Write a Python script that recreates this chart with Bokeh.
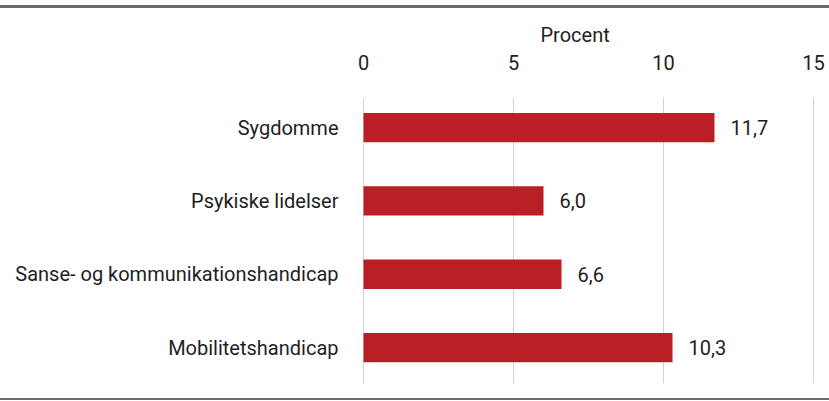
from bokeh.plotting import figure
from bokeh.models import ColumnDataSource, Range1d, FixedTicker, Div, Spacer
from bokeh.layouts import column
from bokeh.core.properties import value
from bokeh.embed import file_html
from bokeh.resources import INLINE

categories = ["Sygdomme", "Psykiske lidelser", "Sanse- og kommunikationshandicap", "Mobilitetshandicap"]
values = [11.7, 6.0, 6.6, 10.3]
x_ticks = [0, 5, 10, 15]
x_title = "Procent"

FONT = "Roboto"
BAR = "#BA1F25"
TXT = "#1e1e1e"
RULE = "#6b6b6b"
W = 829

n = len(categories)
ypos = [n - 1 - i for i in range(n)]
labels = [f"{v:.1f}".replace(".", ",") for v in values]
src = ColumnDataSource(dict(y=ypos, v=values, lab=labels, cat=categories))

y0, y1 = -0.49, 3.41
p = figure(width=W, height=390, output_backend="svg", toolbar_location=None,
           x_range=Range1d(-2 / 30, 15 + 2 / 30), y_range=Range1d(y0, y1),
           x_axis_location="above", min_border_left=361, min_border_right=14,
           min_border_top=89, min_border_bottom=15, margin=0)
p.outline_line_color = None
p.background_fill_color = "white"

p.title.text = x_title
p.title.align = "left"
p.title.offset = 179
p.title.standoff = 9
p.title.text_font = FONT
p.title.text_font_size = "20px"
p.title.text_font_style = "normal"
p.title.text_color = TXT

p.xgrid.grid_line_color = None
p.ygrid.grid_line_color = None
p.segment(x0=x_ticks, y0=[y0] * len(x_ticks), x1=x_ticks, y1=[y1] * len(x_ticks),
          line_color="#d2d2d2", line_width=1)

p.hbar(y="y", left=0, right="v", height=0.4, source=src, fill_color=BAR, line_color=None)
p.text(x="v", y="y", text="lab", source=src, x_offset=16, text_baseline="middle",
       text_align="left", text_font=value(FONT), text_font_size="20px", text_color=TXT)

xa = p.xaxis[0]
xa.ticker = FixedTicker(ticks=x_ticks)
xa.axis_line_color = None
xa.major_tick_line_color = None
xa.minor_tick_line_color = None
xa.major_tick_out = 0
xa.major_label_text_font = FONT
xa.major_label_text_font_size = "20px"
xa.major_label_text_color = TXT
xa.major_label_standoff = 28

ya = p.yaxis[0]
ya.ticker = FixedTicker(ticks=ypos)
ya.major_label_overrides = {y: c for y, c in zip(ypos, categories)}
ya.axis_line_color = None
ya.major_tick_line_color = None
ya.minor_tick_line_color = None
ya.major_tick_out = 0
ya.major_label_standoff = 23
ya.major_label_text_font = FONT
ya.major_label_text_font_size = "20px"
ya.major_label_text_color = TXT

top_gap = Spacer(width=W, height=5, margin=0)
top_rule = Div(text="", width=W, height=3, margin=0, styles={"background-color": RULE})
bot_rule = Div(text="", width=W, height=2, margin=0, styles={"background-color": RULE})
layout = column(top_gap, top_rule, p, bot_rule, spacing=0, margin=0)

open("out.html", "w").write(file_html(layout, INLINE))
